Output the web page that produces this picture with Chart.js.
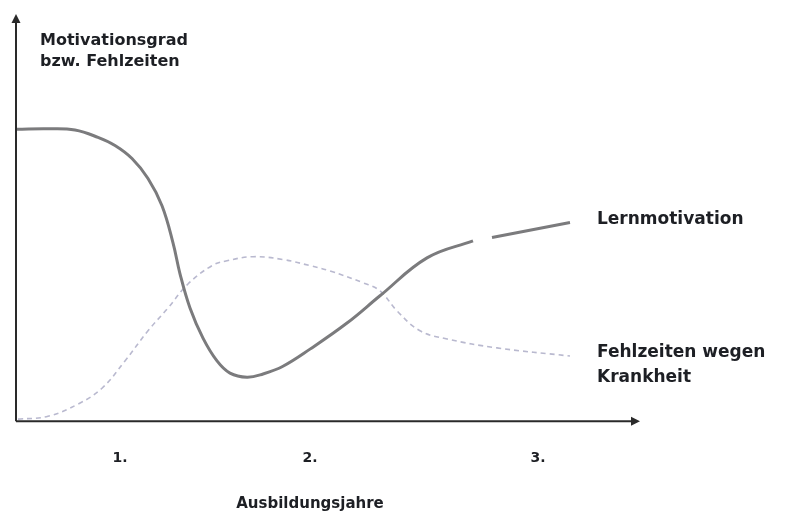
<!DOCTYPE html>
<html>
<head>
<meta charset="utf-8">
<script src="https://cdn.jsdelivr.net/npm/chart.js@4"></script>
<style>
  html, body { margin: 0; padding: 0; background: #fff; }
</style>
</head>
<body>
<canvas id="chart" width="785" height="514"></canvas>
<script>
// x in "hundreds of pixels" of the original sketch, y = 0..100 motivation / absence
const tickPos = [1.04, 2.94, 5.22];
const tickLabels = ['1.', '2.', '3.'];

const motivX = [0.01, 0.32, 0.59, 0.82, 0.99, 1.16, 1.32, 1.46, 1.57, 1.64, 1.74, 1.87, 2.01, 2.14, 2.31, 2.47, 2.67, 2.94, 3.31, 3.64, 4.11, 4.57, 4.66, 4.76, 5.54];
const motivY = [71.7, 71.8, 71.5, 69.7, 67.7, 64.5, 59.6, 52.9, 43.8, 36.2, 27.8, 20.4, 14.8, 11.8, 10.8, 11.6, 13.5, 17.7, 24.1, 30.8, 40.1, 44.3, null, 45.1, 48.8];

const absentX = [0.02, 0.32, 0.62, 0.86, 1.09, 1.32, 1.52, 1.72, 1.96, 2.11, 2.37, 2.67, 2.94, 3.14, 3.47, 3.64, 3.81, 4.04, 4.31, 4.81, 5.54];
const absentY = [0.5, 1.2, 4.2, 8.1, 14.8, 22.2, 27.8, 33.7, 38.2, 39.4, 40.4, 39.7, 38.2, 36.9, 34.0, 32.0, 27.1, 22.2, 20.2, 18.0, 16.0];

const seriesNames = [['Lernmotivation'], ['Fehlzeiten wegen', 'Krankheit']];
const yTitle = ['Motivationsgrad', 'bzw. Fehlzeiten'];
const xTitle = 'Ausbildungsjahre';

const textColor = '#1d1f24';
const fontFam = '"DejaVu Sans", Verdana, sans-serif';

function pts(xs, ys) {
    return xs.map((x, i) => ({ x: x, y: ys[i] }));
}

// axes with arrow heads, titles and end-of-line labels
const sketchPlugin = {
    id: 'sketch',
    afterDraw(chart) {
        const ctx = chart.ctx;
        const a = chart.chartArea;
        ctx.save();
        ctx.strokeStyle = '#2a2a2a';
        ctx.fillStyle = '#2a2a2a';
        ctx.lineWidth = 2;
        // y axis
        ctx.beginPath();
        ctx.moveTo(a.left, a.bottom);
        ctx.lineTo(a.left, a.top + 6);
        ctx.stroke();
        ctx.beginPath();
        ctx.moveTo(a.left, a.top);
        ctx.lineTo(a.left - 4.5, a.top + 9);
        ctx.lineTo(a.left + 4.5, a.top + 9);
        ctx.closePath();
        ctx.fill();
        // x axis
        ctx.beginPath();
        ctx.moveTo(a.left, a.bottom);
        ctx.lineTo(a.right - 6, a.bottom);
        ctx.stroke();
        ctx.beginPath();
        ctx.moveTo(a.right, a.bottom);
        ctx.lineTo(a.right - 9, a.bottom - 4.5);
        ctx.lineTo(a.right - 9, a.bottom + 4.5);
        ctx.closePath();
        ctx.fill();

        ctx.fillStyle = textColor;
        ctx.textAlign = 'left';
        ctx.textBaseline = 'middle';

        // y title
        ctx.font = 'bold 16px ' + fontFam;
        yTitle.forEach((t, i) => ctx.fillText(t, a.left + 24, a.top + 27 + i * 21));

        // x title, centred under the middle year
        ctx.textAlign = 'center';
        ctx.font = 'bold 15px ' + fontFam;
        ctx.fillText(xTitle, chart.scales.x.getPixelForValue(tickPos[1]), a.bottom + 83);

        // series labels at line ends
        ctx.textAlign = 'left';
        ctx.font = 'bold 17px ' + fontFam;
        chart.data.datasets.forEach((ds, di) => {
            const meta = chart.getDatasetMeta(di);
            const last = meta.data[meta.data.length - 1];
            seriesNames[di].forEach((t, i) => ctx.fillText(t, last.x + 27, last.y - 3 + i * 25));
        });
        ctx.restore();
    }
};

new Chart(document.getElementById('chart'), {
    type: 'line',
    data: {
        datasets: [
            {
                label: seriesNames[0].join(' '),
                data: pts(motivX, motivY),
                borderColor: '#7b7b7d',
                borderWidth: 3,
                pointRadius: 0,
                tension: 0.4,
                spanGaps: false,
                fill: false
            },
            {
                label: seriesNames[1].join(' '),
                data: pts(absentX, absentY),
                borderColor: '#b9b9cf',
                borderWidth: 1.6,
                borderDash: [5, 4],
                pointRadius: 0,
                tension: 0.4,
                fill: false
            }
        ]
    },
    options: {
        responsive: false,
        devicePixelRatio: 1,
        animation: false,
        layout: { padding: { left: 16, right: 145, top: 14, bottom: 18 } },
        plugins: {
            legend: { display: false },
            tooltip: { enabled: false }
        },
        scales: {
            x: {
                type: 'linear',
                min: 0,
                max: 6.24,
                grid: { display: false, drawTicks: false },
                border: { display: false },
                afterBuildTicks: (scale) => {
                    scale.ticks = tickPos.map(v => ({ value: v }));
                },
                ticks: {
                    padding: 29,
                    color: textColor,
                    font: { family: fontFam, size: 14, weight: 'bold' },
                    callback: (value, index) => tickLabels[index]
                }
            },
            y: {
                display: false,
                min: 0,
                max: 100
            }
        }
    },
    plugins: [sketchPlugin]
});
</script>
</body>
</html>
